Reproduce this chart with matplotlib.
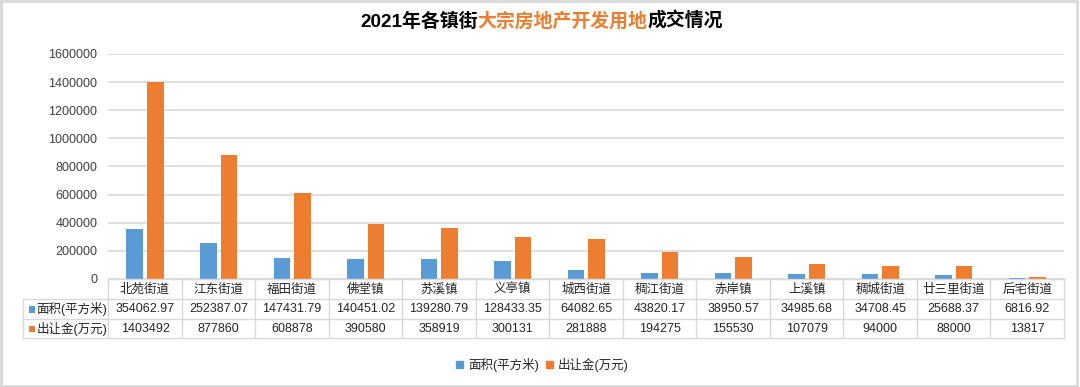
import numpy as np
import matplotlib
matplotlib.use('Agg')
import matplotlib.pyplot as plt
from matplotlib.patches import Rectangle, Patch
from matplotlib.lines import Line2D
from matplotlib.ticker import FuncFormatter
from matplotlib.transforms import blended_transform_factory

# ---------------- data ----------------
categories = ["北苑街道", "江东街道", "福田街道", "佛堂镇", "苏溪镇", "义亭镇", "城西街道",
              "稠江街道", "赤岸镇", "上溪镇", "稠城街道", "廿三里街道", "后宅街道"]
area = [354062.97, 252387.07, 147431.79, 140451.02, 139280.79, 128433.35, 64082.65,
        43820.17, 38950.57, 34985.68, 34708.45, 25688.37, 6816.92]
fee = [1403492, 877860, 608878, 390580, 358919, 300131, 281888,
       194275, 155530, 107079, 94000, 88000, 13817]
series_names = ["面积(平方米)", "出让金(万元)"]
yticks = [0, 200000, 400000, 600000, 800000, 1000000, 1200000, 1400000, 1600000]
title_parts = ["2021年各镇街", "大宗房地产开发用地", "成交情况"]

BLUE = "#5B9BD5"
ORANGE = "#ED7D31"
GRID = "#D9D9D9"
TXT = "#262626"

plt.rcParams['font.family'] = ['Liberation Sans', 'Noto Sans CJK SC', 'DejaVu Sans']

W, H = 1080, 387
fig = plt.figure(figsize=(W / 100, H / 100), dpi=100)


def fx(px):
    return px / W


def fy(py):
    return 1 - py / H


# plot area
L, R, T, B = 108.3, 1064.0, 54.0, 278.8
ax = fig.add_axes([fx(L), fy(B), fx(R) - fx(L), fy(T) - fy(B)])
n = len(categories)
x = np.arange(n)
w, off = 0.225, 0.14
ax.bar(x - off, area, w, color=BLUE, zorder=3)
ax.bar(x + off, fee, w, color=ORANGE, zorder=3)
ax.set_xlim(-0.5, n - 0.5)
ax.set_ylim(yticks[0], yticks[-1])
ax.set_yticks(yticks)
ax.yaxis.set_major_formatter(FuncFormatter(lambda v, p: f"{int(v)}"))
ax.yaxis.grid(True, color=GRID, lw=1.2, zorder=0)
ax.set_axisbelow(True)
for s in ax.spines.values():
    s.set_visible(False)
ax.set_xticks([])
ax.tick_params(axis='y', length=0, pad=8, labelsize=9, labelcolor="#404040")

# ---------------- data table ----------------
tr = blended_transform_factory(ax.transData, fig.transFigure)
ftr = fig.transFigure
rows_px = [279.3, 299.3, 319.3, 338.3]
ry = [fy(v) for v in rows_px]
lab_left = 23.3
lw = 1.0
# horizontal lines
fig.add_artist(Line2D([fx(L), fx(R)], [ry[0], ry[0]], transform=ftr, color=GRID, lw=lw))
for yy in ry[1:]:
    fig.add_artist(Line2D([fx(lab_left), fx(R)], [yy, yy], transform=ftr, color=GRID, lw=lw))
# vertical lines
for i in range(n + 1):
    fig.add_artist(Line2D([i - 0.5, i - 0.5], [ry[0], ry[3]], transform=tr, color=GRID, lw=lw))
fig.add_artist(Line2D([fx(lab_left), fx(lab_left)], [ry[1], ry[3]], transform=ftr, color=GRID, lw=lw))

# cell texts
for i, c in enumerate(categories):
    fig.text(i, (ry[0] + ry[1]) / 2, c, transform=tr, ha='center', va='center',
             fontsize=9, color=TXT)
    fig.text(i, (ry[1] + ry[2]) / 2, f"{area[i]:.2f}", transform=tr, ha='center',
             va='center', fontsize=9, color=TXT)
    fig.text(i, (ry[2] + ry[3]) / 2, f"{fee[i]:d}", transform=tr, ha='center',
             va='center', fontsize=9, color=TXT)

# row labels with keys
for k, (name, col) in enumerate(zip(series_names, [BLUE, ORANGE])):
    yc = (ry[k + 1] + ry[k + 2]) / 2
    sq = 6.5
    fig.add_artist(Rectangle((fx(28.5), yc - (sq / 2) / H), sq / W, sq / H,
                             transform=ftr, color=col, lw=0))
    fig.text(fx(36.5), yc, name, ha='left', va='center', fontsize=9, color=TXT)

# ---------------- legend ----------------
handles = [Patch(color=BLUE, label=series_names[0]), Patch(color=ORANGE, label=series_names[1])]
fig.legend(handles=handles, loc='center', bbox_to_anchor=(fx(542.5), fy(365)), ncol=2,
           frameon=False, fontsize=9, handlelength=0.55, handleheight=0.55,
           handletextpad=0.4, columnspacing=0.55, labelcolor=TXT)

# ---------------- title ----------------
renderer = fig.canvas.get_renderer()
colors = ["#000000", ORANGE, "#000000"]
texts = []
widths = []
for part, col in zip(title_parts, colors):
    t = fig.text(0, fy(21.5), part, fontsize=13.6, fontweight='bold', color=col,
                 ha='left', va='center')
    texts.append(t)
    widths.append(t.get_window_extent(renderer).width)
start = 541.5 - sum(widths) / 2
for t, wd in zip(texts, widths):
    t.set_x(fx(start))
    start += wd

# outer border
fig.add_artist(Rectangle((0.001, 0.002), 0.996, 0.996, transform=ftr, fill=False,
                         edgecolor=GRID, lw=2))

fig.savefig("out.png", dpi=100)
